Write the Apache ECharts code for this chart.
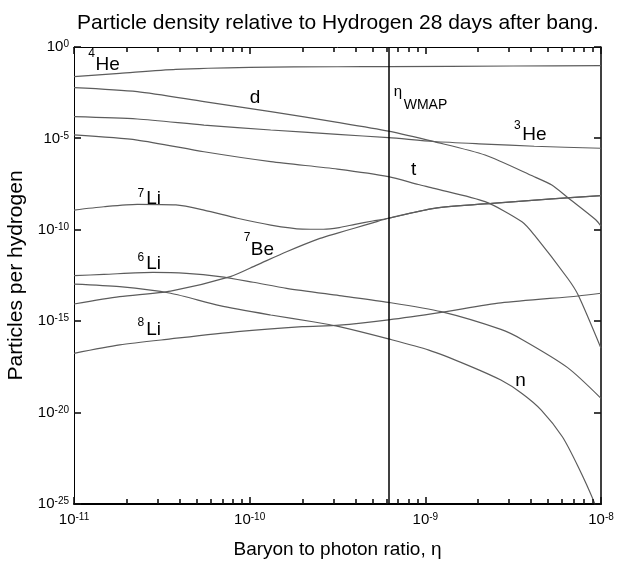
<!DOCTYPE html>
<html>
<head>
<meta charset="utf-8">
<script src="https://cdn.jsdelivr.net/npm/echarts@6/dist/echarts.min.js"></script>
<style>
  html, body { margin: 0; padding: 0; background: #fff; }
  #chart { width: 619px; height: 570px; }
</style>
</head>
<body>
<div id="chart"></div>
<script>
// Every point is [log10(eta), log10(n_X / n_H)].
const he4 = [[-11.0,-1.62],[-10.74,-1.44],[-10.42,-1.22],[-10.0,-1.11],[-9.5,-1.08],[-9.21,-1.07],[-8.5,-1.04],[-8.0,-1.02]];
const deuterium = [[-11.0,-2.22],[-10.64,-2.44],[-10.26,-2.99],[-9.88,-3.54],[-9.5,-4.12],[-9.21,-4.60],[-8.95,-5.18],[-8.66,-5.91],[-8.38,-7.10],[-8.28,-7.55],[-8.19,-8.23],[-8.03,-9.45],[-8.0,-9.8]];
const he3 = [[-11.0,-3.81],[-10.64,-3.94],[-10.26,-4.27],[-9.88,-4.54],[-9.5,-4.78],[-9.21,-4.96],[-8.95,-5.17],[-8.66,-5.31],[-8.38,-5.43],[-8.0,-5.54]];
const triton = [[-11.0,-4.81],[-10.64,-5.09],[-10.26,-5.73],[-9.88,-6.27],[-9.5,-6.68],[-9.21,-7.09],[-9.04,-7.52],[-8.95,-7.73],[-8.66,-8.46],[-8.45,-9.56],[-8.38,-10.28],[-8.19,-12.65],[-8.13,-13.57],[-8.0,-16.48]];
const li7 = [[-11.0,-8.92],[-10.83,-8.74],[-10.64,-8.61],[-10.42,-8.64],[-10.26,-8.92],[-10.07,-9.37],[-9.88,-9.74],[-9.70,-9.96],[-9.58,-9.97],[-9.49,-9.88],[-9.40,-9.70],[-9.30,-9.52],[-9.21,-9.37],[-8.95,-8.83],[-8.62,-8.55],[-8.28,-8.31],[-8.0,-8.13]];
const be7 = [[-11.0,-14.06],[-10.74,-13.66],[-10.45,-13.35],[-10.11,-12.56],[-9.96,-11.93],[-9.79,-11.20],[-9.60,-10.47],[-9.50,-10.18],[-9.40,-9.90],[-9.30,-9.62],[-9.21,-9.37],[-8.95,-8.83],[-8.62,-8.55],[-8.28,-8.31],[-8.0,-8.13]];
const li6 = [[-11.0,-12.51],[-10.83,-12.44],[-10.55,-12.33],[-10.36,-12.38],[-10.17,-12.56],[-9.98,-12.87],[-9.79,-13.20],[-9.49,-13.60],[-9.21,-13.97],[-8.91,-14.48],[-8.57,-15.45],[-8.45,-16.0],[-8.19,-17.54],[-8.0,-19.22]];
const li8 = [[-11.0,-16.76],[-10.74,-16.30],[-10.45,-15.97],[-10.07,-15.57],[-9.70,-15.30],[-9.49,-15.22],[-9.21,-14.93],[-8.91,-14.52],[-8.57,-14.0],[-8.13,-13.62],[-8.0,-13.47]];
const neutron = [[-11.0,-12.97],[-10.74,-13.11],[-10.45,-13.47],[-10.17,-14.15],[-9.88,-14.66],[-9.64,-15.03],[-9.49,-15.30],[-9.21,-15.97],[-8.98,-16.58],[-8.76,-17.40],[-8.57,-18.22],[-8.45,-18.95],[-8.34,-19.86],[-8.22,-21.32],[-8.13,-22.96],[-8.04,-24.87],[-8.0,-26.0]];

// Measured baryon-to-photon ratio.
const etaWMAP = 6.2e-10;

// Axis ranges (decades).
const xDecades = [-11, -10, -9, -8];
const yDecades = [-25, -20, -15, -10, -5, 0];

// Curve annotations, anchored in the same log10 units as the data.
const annotations = [
  { text: 'He',   kind: 'main', eta: -10.809, abund: -0.957 },
  { text: '4',    kind: 'sup',  eta: -10.900, abund: -0.383 },
  { text: 'd',    kind: 'main', eta: -9.970,  abund: -2.763 },
  { text: 'η',    kind: 'eta',  eta: -9.156,  abund: -2.434 },
  { text: 'WMAP', kind: 'sub',  eta: -8.999,  abund: -3.173 },
  { text: 'He',   kind: 'main', eta: -8.379,  abund: -4.814 },
  { text: '3',    kind: 'sup',  eta: -8.476,  abund: -4.320 },
  { text: 't',    kind: 'main', eta: -9.067,  abund: -6.729 },
  { text: 'Li',   kind: 'main', eta: -10.547, abund: -8.288 },
  { text: '7',    kind: 'sup',  eta: -10.619, abund: -8.014 },
  { text: 'Be',   kind: 'main', eta: -9.927,  abund: -11.105 },
  { text: '7',    kind: 'sup',  eta: -10.015, abund: -10.421 },
  { text: 'Li',   kind: 'main', eta: -10.547, abund: -11.871 },
  { text: '6',    kind: 'sup',  eta: -10.619, abund: -11.515 },
  { text: 'Li',   kind: 'main', eta: -10.547, abund: -15.481 },
  { text: '8',    kind: 'sup',  eta: -10.619, abund: -15.071 },
  { text: 'n',    kind: 'main', eta: -8.458,  abund: -18.244 }
];

const curves = [he4, deuterium, he3, triton, li7, be7, li6, li8, neutron];

const FONT = '"Liberation Sans", Arial, Helvetica, sans-serif';
const annotationSize = { main: 19, sup: 12, sub: 14, eta: 15 };

const CHART_H = 570;
const GRID = { left: 74, right: 18, top: 47, bottom: 66 };

// Tick positions along eta: decades plus 2..9 within each decade.
const xTicks = [];
xDecades.forEach((d, i) => {
  xTicks.push(d);
  if (i < xDecades.length - 1) {
    for (let k = 2; k <= 9; k++) xTicks.push(d + Math.log10(k));
  }
});

const powerRich = {
  b: { fontFamily: FONT, fontSize: 15, color: '#000', lineHeight: 15, padding: [5, 0, 0, 0], verticalAlign: 'bottom' },
  s: { fontFamily: FONT, fontSize: 10, color: '#000', lineHeight: 10, verticalAlign: 'top' }
};
const powerLabel = v => '{b|10}{s|' + v + '}';

function xAxisDef(position, lineWidth) {
  return {
    type: 'value', min: xDecades[0], max: xDecades[xDecades.length - 1],
    interval: 1, position: position,
    axisLine: { show: true, onZero: false, lineStyle: { color: '#000', width: lineWidth } },
    axisTick: { show: false },
    axisLabel: { show: false },
    splitLine: { show: false }
  };
}

const xMain = xAxisDef('bottom', 2);
xMain.axisLabel = { show: true, margin: 8, formatter: powerLabel, rich: powerRich };
xMain.name = 'Baryon to photon ratio, η';
xMain.nameLocation = 'middle';
xMain.nameGap = 36;
xMain.nameTextStyle = { fontFamily: FONT, fontSize: 19, color: '#000' };

function yAxisDef(position, showLabels, lineWidth) {
  return {
    type: 'value', min: yDecades[0], max: yDecades[yDecades.length - 1],
    interval: 5, position: position,
    axisLine: { show: true, onZero: false, lineStyle: { color: '#000', width: lineWidth } },
    axisTick: { show: false },
    axisLabel: showLabels
      ? { show: true, margin: 5, formatter: powerLabel, rich: powerRich }
      : { show: false },
    splitLine: { show: false }
  };
}

const yMain = yAxisDef('left', true, 1);
yMain.name = 'Particles per hydrogen';
yMain.nameLocation = 'middle';
yMain.nameRotate = 90;
yMain.nameGap = 42;
yMain.nameTextStyle = { fontFamily: FONT, fontSize: 21, color: '#000' };

const series = curves.map(pts => ({
  type: 'line',
  xAxisIndex: 0, yAxisIndex: 0,
  data: pts,
  showSymbol: false,
  smooth: 0.25,
  silent: true,
  lineStyle: { color: '#5c5c5c', width: 1.2 },
  z: 2
}));

// Vertical marker at the measured eta.
series[0].markLine = {
  silent: true, symbol: 'none', animation: false,
  label: { show: false },
  lineStyle: { color: '#000', width: 1.5, type: 'solid' },
  data: [{ xAxis: Math.log10(etaWMAP) }]
};

// Inward eta ticks along the bottom and top edges, as short mark-line segments.
const yMin = yDecades[0], yMax = yDecades[yDecades.length - 1];
const unitsPerPx = (yMax - yMin) / (CHART_H - GRID.top - GRID.bottom);
const tickSegments = [];
xTicks.forEach(v => {
  const len = (Math.abs(v - Math.round(v)) < 1e-9 ? 7 : 5) * unitsPerPx;
  tickSegments.push([{ coord: [v, yMin] }, { coord: [v, yMin + len] }]);
  tickSegments.push([{ coord: [v, yMax] }, { coord: [v, yMax - len] }]);
});
series.push({
  type: 'line',
  xAxisIndex: 0, yAxisIndex: 0,
  data: [],
  silent: true,
  z: 10,
  markLine: {
    silent: true, symbol: 'none', animation: false,
    label: { show: false },
    lineStyle: { color: '#111', width: 1.6, type: 'solid' },
    data: tickSegments
  }
});

// Inward ticks on the left and right edges.
series.push({
  type: 'custom',
  xAxisIndex: 0, yAxisIndex: 0,
  clip: false, silent: true, z: 10,
  data: yDecades.map(v => [xDecades[0], v]),
  renderItem: (params, api) => {
    const v = api.value(1);
    const y = Math.round(api.coord([xDecades[0], v])[1]);
    const xl = api.coord([xDecades[0], v])[0];
    const xr = api.coord([xDecades[xDecades.length - 1], v])[0];
    return {
      type: 'group',
      children: [
        { type: 'line', shape: { x1: xl, y1: y, x2: xl + 7, y2: y }, style: { stroke: '#111', lineWidth: 1.6 } },
        { type: 'line', shape: { x1: xr, y1: y, x2: xr - 7, y2: y }, style: { stroke: '#111', lineWidth: 1.6 } }
      ]
    };
  }
});

series.push({
  type: 'custom',
  xAxisIndex: 0, yAxisIndex: 0,
  clip: false, silent: true, z: 5,
  data: annotations.map(a => [a.eta, a.abund]),
  renderItem: (params, api) => {
    const a = annotations[params.dataIndex];
    const p = api.coord([api.value(0), api.value(1)]);
    return {
      type: 'text', x: p[0], y: p[1],
      style: {
        text: a.text, fontFamily: FONT, fontSize: annotationSize[a.kind],
        fill: '#000', align: 'center', verticalAlign: 'middle'
      }
    };
  }
});

const chart = echarts.init(document.getElementById('chart'), null, { renderer: 'canvas' });
chart.setOption({
  animation: false,
  backgroundColor: '#fff',
  title: {
    text: 'Particle density relative to Hydrogen 28 days after bang.',
    left: 72, top: 8,
    textStyle: { fontFamily: FONT, fontSize: 21, fontWeight: 'normal', color: '#000' }
  },
  grid: Object.assign({ containLabel: false, outerBoundsMode: 'none' }, GRID),
  xAxis: [xMain, xAxisDef('top', 1)],
  yAxis: [yMain, yAxisDef('right', false, 1.5)],
  series: series
});
</script>
</body>
</html>
